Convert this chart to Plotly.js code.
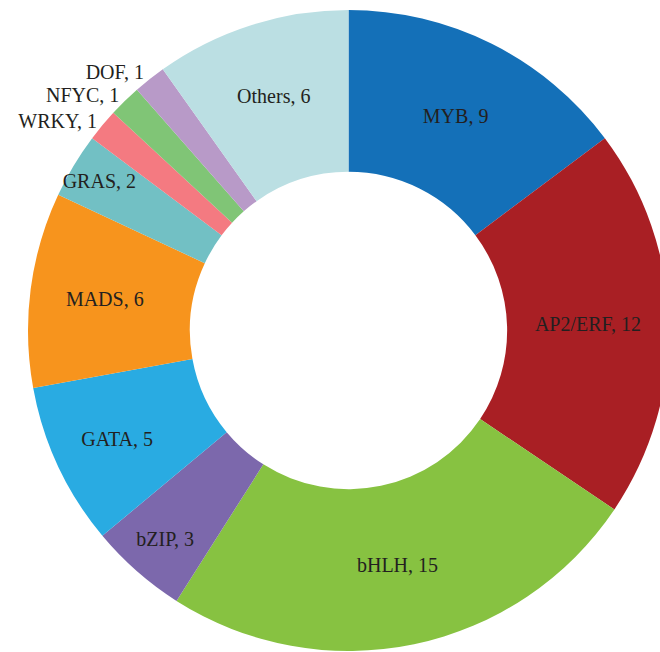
<!DOCTYPE html>
<html>
<head>
<meta charset="utf-8">
<script src="https://cdn.plot.ly/plotly-3.0.1.min.js"></script>
<style>
html, body { margin: 0; padding: 0; overflow: hidden; background: #fff; width: 660px; height: 652px; }
#chart { width: 697px; height: 651px; }
</style>
</head>
<body>
<div id="chart"></div>
<script>
const families = ["MYB", "AP2/ERF", "bHLH", "bZIP", "GATA", "MADS", "GRAS", "WRKY", "NFYC", "DOF", "Others"];
const counts = [9, 12, 15, 3, 5, 6, 2, 1, 1, 1, 6];
const colors = ["#1470b8", "#a91f24", "#87c241", "#7c68ac", "#29abe2", "#f7941d", "#72c0c4", "#f47a81", "#80c576", "#b89ac8", "#bbdfe3"];
const positions = ["inside", "inside", "inside", "inside", "inside", "inside", "inside", "outside", "outside", "outside", "inside"];

const trace = {
  type: "pie",
  labels: families,
  values: counts,
  hole: 0.495,
  sort: false,
  direction: "clockwise",
  rotation: 0,
  marker: { colors: colors, line: { width: 0 } },
  texttemplate: "%{label}, %{value}",
  textposition: positions,
  insidetextorientation: "horizontal",
  textfont: { family: "Liberation Serif, Times New Roman, serif", size: 20, color: "#231f20" },
  showlegend: false,
  hoverinfo: "label+value"
};

const layout = {
  width: 697,
  height: 651,
  margin: { l: 0, r: 0, t: 10, b: 0, pad: 0 },
  paper_bgcolor: "#ffffff",
  showlegend: false,
  uniformtext: { minsize: 20, mode: "show" }
};

Plotly.newPlot("chart", [trace], layout, { displayModeBar: false, staticPlot: true });
</script>
</body>
</html>
